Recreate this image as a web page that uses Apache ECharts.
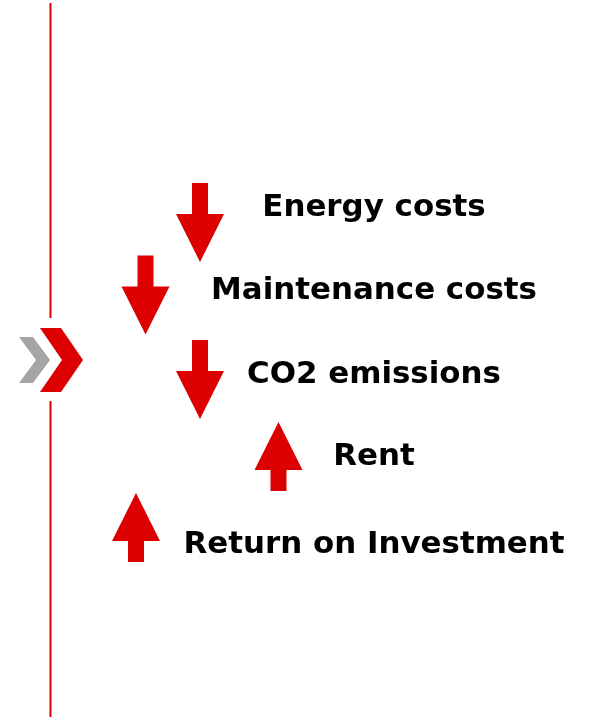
<!DOCTYPE html>
<html>
<head>
<meta charset="utf-8">
<script src="https://cdn.jsdelivr.net/npm/echarts@6/dist/echarts.min.js"></script>
<style>html,body{margin:0;padding:0;background:#fff}#main{width:598px;height:723px}</style>
</head>
<body>
<div id="main"></div>
<script>
// items of the infographic, top to bottom
const labels = ['Energy costs', 'Maintenance costs', 'CO2 emissions', 'Rent', 'Return on Investment'];
const trend = ['down', 'down', 'down', 'up', 'up'];
// where each arrow sits (axis units = px of the reference)
const arrowX = [200, 145.5, 200, 278.5, 136];
const arrowY = [222.5, 295, 379.5, 456.5, 527.5];
const labelY = [208, 291, 375, 457, 545];
const labelX = 374;
// divider line with chevron
const dividerX = 50.5;
const dividerY = [3, 318, 401, 717];
const chevronY = 360;

const RED = '#dc0000';
const GREY = '#a5a5a5';
const FONT = '"DejaVu Sans", sans-serif';

const chart = echarts.init(document.getElementById('main'));

function arrowShape(cx, cy, dir) {
  // down arrows: 79px tall, head 48x48; up arrows: 69px tall, head 48x48
  if (dir === 'down') {
    const top = cy - 39.5, neck = top + 31, tip = cy + 39.5;
    return [[cx - 8, top], [cx + 8, top], [cx + 8, neck], [cx + 24, neck], [cx, tip], [cx - 24, neck], [cx - 8, neck]];
  }
  const tip = cy - 34.5, neck = tip + 48, bot = cy + 34.5;
  return [[cx, tip], [cx + 24, neck], [cx + 8, neck], [cx + 8, bot], [cx - 8, bot], [cx - 8, neck], [cx - 24, neck]];
}

const items = labels.map((name, i) => ({ name: name, value: [arrowX[i], arrowY[i], labelY[i]] }));

chart.setOption({
  animation: false,
  grid: { left: 0, right: 0, top: 0, bottom: 0 },
  xAxis: { type: 'value', min: 0, max: 598, show: false },
  yAxis: { type: 'value', min: 0, max: 723, inverse: true, show: false },
  series: [
    {
      type: 'custom',
      name: 'items',
      data: items,
      renderItem: function (params, api) {
        const i = params.dataIndex;
        const c = api.coord([api.value(0), api.value(1)]);
        const t = api.coord([labelX, api.value(2)]);
        return {
          type: 'group',
          children: [
            { type: 'polygon', shape: { points: arrowShape(c[0], c[1], trend[i]) }, style: { fill: RED } },
            {
              type: 'text',
              scaleX: 1.03,
              originX: t[0],
              originY: t[1],
              style: {
                text: labels[i], x: t[0], y: t[1], fill: '#000',
                fontSize: 30, fontWeight: 'bold', fontFamily: FONT,
                align: 'center', verticalAlign: 'middle'
              }
            }
          ]
        };
      }
    },
    {
      type: 'custom',
      name: 'divider',
      data: [[dividerX, chevronY]],
      renderItem: function (params, api) {
        const c = api.coord([api.value(0), api.value(1)]);
        const a = api.coord([dividerX, dividerY[0]]);
        const b = api.coord([dividerX, dividerY[1]]);
        const d = api.coord([dividerX, dividerY[2]]);
        const e = api.coord([dividerX, dividerY[3]]);
        const x = c[0], y = c[1];
        return {
          type: 'group',
          children: [
            { type: 'line', shape: { x1: a[0], y1: a[1], x2: b[0], y2: b[1] }, style: { stroke: RED, lineWidth: 2 } },
            { type: 'line', shape: { x1: d[0], y1: d[1], x2: e[0], y2: e[1] }, style: { stroke: RED, lineWidth: 2 } },
            {
              type: 'polygon',
              shape: { points: [[x - 31.5, y - 23], [x - 17.5, y - 23], [x - 0.5, y], [x - 17.5, y + 23], [x - 31.5, y + 23], [x - 14.5, y]] },
              style: { fill: GREY }
            },
            {
              type: 'polygon',
              shape: { points: [[x - 10.5, y - 32], [x + 10.5, y - 32], [x + 32.5, y], [x + 10.5, y + 32], [x - 10.5, y + 32], [x + 11.5, y]] },
              style: { fill: RED }
            }
          ]
        };
      }
    }
  ]
});
</script>
</body>
</html>
